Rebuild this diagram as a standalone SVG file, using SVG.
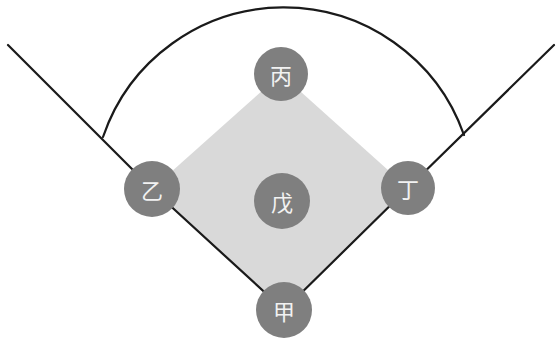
<svg xmlns="http://www.w3.org/2000/svg" width="558" height="342" viewBox="0 0 558 342">
<style>
.line{fill:none;stroke:#1a1a1a;stroke-width:2.2;stroke-linecap:round;stroke-linejoin:round}
.node circle{fill:#7f7f7f}
.node text{fill:#f2f2f2;font-family:"Noto Sans CJK SC","Noto Sans CJK JP",sans-serif;font-size:22px;text-anchor:middle;dominant-baseline:central}
</style>
<rect width="558" height="342" fill="#ffffff"/>
<polygon points="281,74 408,188 284,310 152,189" fill="#d9d9d9"/>
<g id="connectors">
<path class="line" d="M8,45 L152,189 L284,310 L408,188 L554,45"/>
<path class="line" d="M103,137 A191,191 0 0 1 464,135"/>
</g>
<g id="node-bing" class="node"><circle cx="281" cy="74" r="27"/><text x="281" y="74">丙</text></g>
<g id="node-yi" class="node"><circle cx="152" cy="189" r="28"/><text x="152" y="189">乙</text></g>
<g id="node-ding" class="node"><circle cx="408" cy="188" r="27"/><text x="408" y="188">丁</text></g>
<g id="node-wu" class="node"><circle cx="282" cy="201" r="28"/><text x="282" y="201">戊</text></g>
<g id="node-jia" class="node"><circle cx="284" cy="310" r="28"/><text x="284" y="310">甲</text></g>
</svg>
